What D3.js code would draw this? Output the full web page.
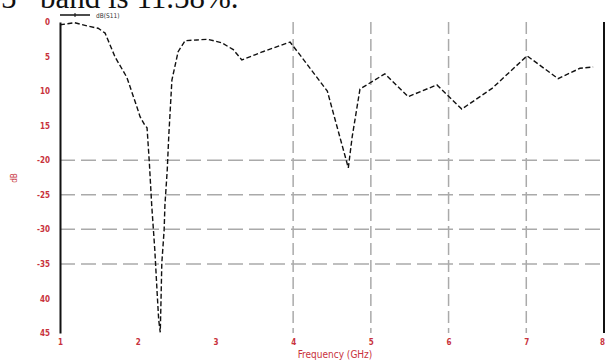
<!DOCTYPE html>
<html>
<head>
<meta charset="utf-8">
<script src="https://cdn.jsdelivr.net/npm/d3@7"></script>
<style>
  html, body { margin: 0; padding: 0; background: #fff; }
  svg { display: block; }
</style>
</head>
<body>
<svg id="chart" width="605" height="361"></svg>
<script>
// Frequency sweep (GHz) and return loss (dB)
const freqGHz = [1.00, 1.19, 1.36, 1.49, 1.58, 1.71, 1.86, 1.99, 2.03, 2.09, 2.12,
  2.15, 2.18, 2.22, 2.25, 2.27, 2.29, 2.30, 2.31, 2.34, 2.35, 2.38, 2.40, 2.42, 2.44,
  2.52, 2.61, 2.76, 2.90, 3.08, 3.23, 3.34, 3.61, 3.96, 4.09, 4.44, 4.60, 4.71, 4.76,
  4.86, 5.18, 5.48, 5.85, 6.17, 6.56, 7.01, 7.41, 7.69, 7.86];
const s11dB = [-0.4, -0.1, -0.6, -0.9, -1.6, -5.1, -8.0, -12.3, -13.7, -14.9, -15.3,
  -20.4, -26.5, -33.0, -39.2, -43.1, -44.9, -40.2, -34.9, -30.1, -26.5, -21.4, -16.4, -12.4, -8.4,
  -4.3, -2.7, -2.6, -2.5, -3.0, -4.0, -5.5, -4.3, -2.9, -4.8, -10.0, -16.6, -21.1, -16.6,
  -9.7, -7.5, -10.8, -9.1, -12.6, -9.6, -4.9, -8.2, -6.7, -6.5];

// Axis ticks and their printed labels
const xTicks = [1, 2, 3, 4, 5, 6, 7, 8];
const xTickLabels = ["1", "2", "3", "4", "5", "6", "7", "8"];
const yTicks = [0, -5, -10, -15, -20, -25, -30, -35, -40, -45];
const yTickLabels = ["0", "5", "10", "15", "-20", "-25", "-30", "-35", "40", "45"];

// Grid lines drawn only where the plot shows them
const xGrid = [4, 5, 6, 7];
const yGrid = [-20, -25, -30, -35];

const svg = d3.select("#chart");
const red = "#c8323c";
const labelFont = "'DejaVu Sans Condensed', 'DejaVu Sans', sans-serif";
const serif = "'Liberation Serif', 'Times New Roman', serif";

const x = d3.scaleLinear().domain([1, 8]).range([60, 604]);
const y = d3.scaleLinear().domain([0, -45]).range([22, 333]);

// Caption line running off the top of the page
svg.append("text")
  .attr("x", 1).attr("y", 8)
  .attr("font-family", serif)
  .attr("font-size", 31)
  .attr("fill", "#111")
  .text("5");
svg.append("text")
  .attr("x", 40).attr("y", 8)
  .attr("font-family", serif)
  .attr("font-size", 31)
  .attr("fill", "#111")
  .text("band is 11.58%.");

// Dashed grid
svg.append("g")
  .selectAll("line")
  .data(yGrid)
  .join("line")
  .attr("x1", x(1)).attr("x2", x(8))
  .attr("y1", d => y(d)).attr("y2", d => y(d))
  .attr("stroke", "#aaa").attr("stroke-width", 1.5)
  .attr("stroke-dasharray", "15,6");

svg.append("g")
  .selectAll("line")
  .data(xGrid)
  .join("line")
  .attr("x1", d => x(d)).attr("x2", d => x(d))
  .attr("y1", y(0)).attr("y2", y(-45))
  .attr("stroke", "#aaa").attr("stroke-width", 1.5)
  .attr("stroke-dasharray", "12,5");

// Left axis
const yAxis = d3.axisLeft(y)
  .tickValues(yTicks)
  .tickFormat((d, i) => yTickLabels[i])
  .tickSize(0)
  .tickPadding(10);
const gy = svg.append("g").attr("transform", `translate(${x(1)},0)`).call(yAxis);
gy.select(".domain").attr("stroke", "#111").attr("stroke-width", 2);
gy.selectAll("text")
  .attr("fill", red)
  .attr("font-family", labelFont)
  .attr("font-weight", "bold")
  .attr("font-size", 8);

// Right frame edge
svg.append("line")
  .attr("x1", x(8)).attr("x2", x(8))
  .attr("y1", y(0)).attr("y2", y(-45))
  .attr("stroke", "#111").attr("stroke-width", 2);

// Bottom tick labels
const xAxis = d3.axisBottom(x)
  .tickValues(xTicks)
  .tickFormat((d, i) => xTickLabels[i])
  .tickSize(0)
  .tickPadding(6);
const gx = svg.append("g").attr("transform", `translate(0,${y(-45)})`).call(xAxis);
gx.select(".domain").remove();
gx.selectAll("text")
  .attr("fill", red)
  .attr("font-family", labelFont)
  .attr("font-weight", "bold")
  .attr("font-size", 8)
  .attr("dx", (d, i) => i === xTicks.length - 1 ? -2 : 0);

// Axis titles
svg.append("text")
  .attr("x", 335).attr("y", 358)
  .attr("text-anchor", "middle")
  .attr("fill", red)
  .attr("font-family", labelFont)
  .attr("font-size", 10)
  .text("Frequency (GHz)");
svg.append("text")
  .attr("transform", "translate(17,178) rotate(-90)")
  .attr("text-anchor", "middle")
  .attr("fill", red)
  .attr("font-family", labelFont)
  .attr("font-size", 8)
  .text("dB");

// Legend
svg.append("line")
  .attr("x1", 60).attr("x2", 90).attr("y1", 15).attr("y2", 15)
  .attr("stroke", "#111").attr("stroke-width", 1.5);
svg.append("line")
  .attr("x1", 75).attr("x2", 75).attr("y1", 13).attr("y2", 17)
  .attr("stroke", "#111").attr("stroke-width", 1);
svg.append("text")
  .attr("x", 96).attr("y", 18)
  .attr("fill", "#333")
  .attr("font-family", labelFont)
  .attr("font-size", 6.5)
  .text("dB(S11)");

// Return-loss curve
const line = d3.line()
  .x((d, i) => x(freqGHz[i]))
  .y(d => y(d));
svg.append("path")
  .datum(s11dB)
  .attr("d", line)
  .attr("fill", "none")
  .attr("stroke", "#111")
  .attr("stroke-width", 1.4)
  .attr("stroke-dasharray", "5,2.5");
</script>
</body>
</html>
